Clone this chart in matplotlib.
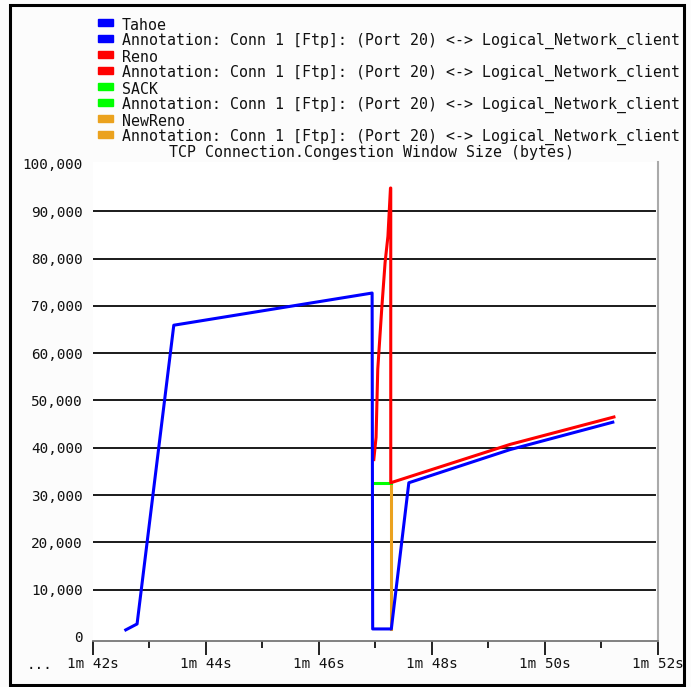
import matplotlib
matplotlib.use("Agg")
import matplotlib.pyplot as plt
from matplotlib.patches import Rectangle
from matplotlib.ticker import FuncFormatter, MultipleLocator

W, H = 691, 687
FONT = "DejaVu Sans Mono"

# congestion window traces, time in seconds, window in bytes
tahoe_t = [102.58, 102.78, 103.43, 106.94, 106.95, 107.28, 107.59, 109.38, 111.20]
tahoe_w = [1500, 2750, 65900, 72700, 1700, 1700, 32600, 39600, 45400]

reno_t = [106.97, 107.01, 107.04, 107.11, 107.17, 107.22, 107.265, 107.27, 107.27, 109.38, 111.22]
reno_w = [37500, 42200, 56600, 69300, 79200, 84700, 94900, 94900, 32600, 40700, 46500]

sack_t = [107.00, 107.27]
sack_w = [32600, 32600]

newreno_t = [107.27, 107.27]
newreno_w = [32600, 1700]

series = [
    ("Tahoe", "#0000ff"),
    ("Reno", "#ff0000"),
    ("SACK", "#00ff00"),
    ("NewReno", "#eba21e"),
]
annotation = "Annotation: Conn 1 [Ftp]: (Port 20) <-> Logical_Network_client"
title = "TCP Connection.Congestion Window Size (bytes)"

y_ticks = list(range(0, 100001, 10000))


def fx(px):
    return px / W


def fy(py):
    return 1 - py / H


fig = plt.figure(figsize=(W / 100, H / 100), dpi=100, facecolor="#fcfcfc")
ax = fig.add_axes([fx(93), fy(641), fx(658) - fx(93), fy(162) - fy(641)])
ax.set_facecolor("white")

# lines, blue on top
ax.plot(newreno_t, newreno_w, color="#eba21e", lw=2.2, zorder=3)
ax.plot(sack_t, sack_w, color="#00ff00", lw=2.2, zorder=4)
ax.plot(reno_t, reno_w, color="#ff0000", lw=2.2, zorder=5)
ax.plot(tahoe_t, tahoe_w, color="#0000ff", lw=2.2, zorder=6)

for v in y_ticks[1:-1]:
    ax.axhline(v, xmin=0, xmax=0.995, color="#1a1a1a", lw=1.4, zorder=1)

ax.set_xlim(102, 112)
ax.set_ylim(-850, 100400)

ax.set_yticks(y_ticks)
ax.yaxis.set_major_formatter(FuncFormatter(lambda v, p: f"{int(v):,}"))
ax.xaxis.set_major_locator(MultipleLocator(2))
ax.xaxis.set_minor_locator(MultipleLocator(1))
ax.xaxis.set_major_formatter(FuncFormatter(lambda v, p: f"1m {int(round(v)) - 60}s"))

ax.tick_params(axis="y", length=0, pad=7.5, labelsize=10.4, labelcolor="#111111")
ax.tick_params(axis="x", which="major", length=10, width=1.3, color="#111111",
               pad=1.5, labelsize=10.4, labelcolor="#111111")
ax.tick_params(axis="x", which="minor", length=5, width=1.3, color="#111111")
for lab in ax.get_xticklabels() + ax.get_yticklabels():
    lab.set_family(FONT)

for side in ("left", "top"):
    ax.spines[side].set_visible(False)
ax.spines["bottom"].set_color("#777777")
ax.spines["bottom"].set_linewidth(1.3)
ax.spines["right"].set_color("#aaaaaa")
ax.spines["right"].set_linewidth(1.5)

fig.text(fx(40), fy(665), "...", family=FONT, fontsize=10.4, color="#111111",
         ha="center", va="center")

# legend block above the plot
row = 25
for name, color in series:
    for label in (name, annotation):
        fig.patches.append(Rectangle((fx(98), fy(row + 1)), fx(15), 7 / H,
                                     transform=fig.transFigure, color=color))
        fig.text(fx(122), fy(row), label, family=FONT, fontsize=10.75,
                 color="#111111", ha="left", va="center")
        row += 16
fig.text(fx(372), fy(153), title, family=FONT, fontsize=10.75, color="#111111",
         ha="center", va="center")

# outer frame
fig.patches.append(Rectangle((fx(10), fy(685)), fx(674), 680 / H, fill=False,
                             lw=2.2, edgecolor="black", transform=fig.transFigure))

fig.savefig("out.png", dpi=100, facecolor=fig.get_facecolor())
